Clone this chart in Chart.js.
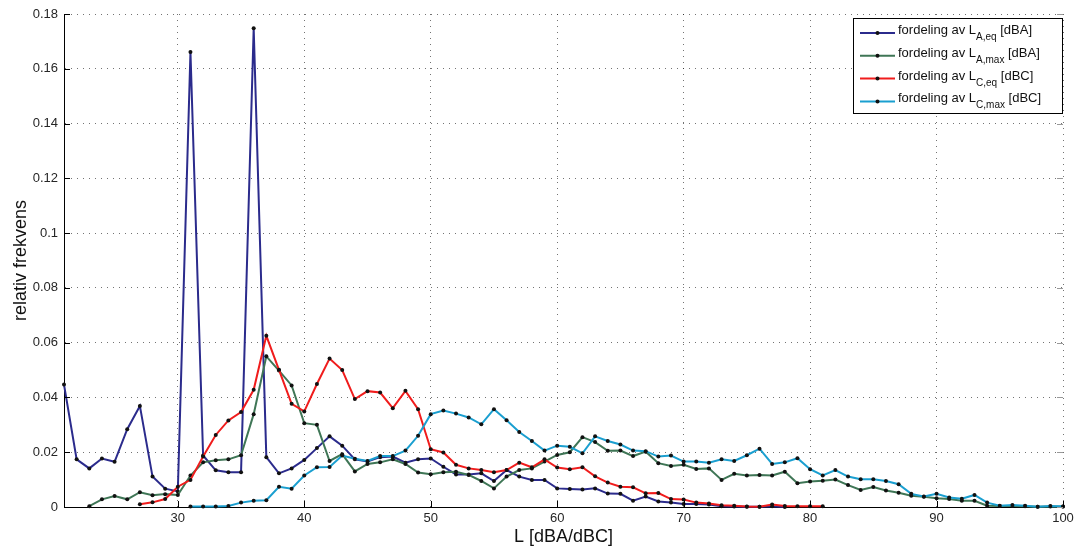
<!DOCTYPE html>
<html>
<head>
<meta charset="utf-8">
<script src="https://cdn.jsdelivr.net/npm/chart.js@4.4.1/dist/chart.umd.min.js"></script>
<style>
  html, body { margin: 0; padding: 0; background: #fff; }
  #wrap { width: 1078px; height: 550px; position: relative; }
</style>
</head>
<body>
<div id="wrap"><canvas id="freqChart"></canvas></div>
<script>
// x start of each series (L in dBA/dBC), then values per 1 dB step
const laeqStart = 21;
const laeq = [0.0447, 0.0174, 0.0141, 0.0177, 0.0165, 0.0284, 0.0369, 0.0111, 0.0067, 0.0057,
  0.1661, 0.0188, 0.0134, 0.0127, 0.0127, 0.1748, 0.0182, 0.0123, 0.0141, 0.0172,
  0.0215, 0.0258, 0.0224, 0.0174, 0.0166, 0.0182, 0.0184, 0.0162, 0.0174, 0.0177,
  0.0147, 0.0119, 0.0119, 0.0123, 0.0095, 0.0135, 0.0111, 0.0099, 0.0099, 0.0068,
  0.0066, 0.0064, 0.0068, 0.0049, 0.0048, 0.0023, 0.0038, 0.0020, 0.0016, 0.0011,
  0.0011, 0.0009, 0.0003, 0.0002, 0.0001, 0.0001, 0.0003, 0.0000];

const lamaxStart = 23;
const lamax = [0.0003, 0.0028, 0.0040, 0.0028, 0.0054, 0.0043, 0.0047, 0.0044, 0.0115, 0.0163,
  0.0171, 0.0174, 0.0189, 0.0339, 0.0550, 0.0498, 0.0444, 0.0306, 0.0300, 0.0168,
  0.0193, 0.0130, 0.0157, 0.0163, 0.0174, 0.0157, 0.0126, 0.0120, 0.0127, 0.0129,
  0.0117, 0.0095, 0.0068, 0.0111, 0.0135, 0.0141, 0.0166, 0.0190, 0.0200, 0.0255,
  0.0237, 0.0205, 0.0206, 0.0186, 0.0202, 0.0160, 0.0150, 0.0154, 0.0139, 0.0141,
  0.0099, 0.0121, 0.0115, 0.0117, 0.0115, 0.0129, 0.0087, 0.0093, 0.0096, 0.0100,
  0.0080, 0.0062, 0.0073, 0.0060, 0.0052, 0.0041, 0.0037, 0.0032, 0.0029, 0.0023,
  0.0023, 0.0005, 0.0004, 0.0004, 0.0003, 0.0001, 0.0002, 0.0002];

const lceqStart = 27;
const lceq = [0.0010, 0.0017, 0.0029, 0.0074, 0.0099, 0.0184, 0.0263, 0.0316, 0.0347, 0.0428,
  0.0625, 0.0501, 0.0377, 0.0349, 0.0449, 0.0542, 0.0500, 0.0394, 0.0423, 0.0418,
  0.0361, 0.0424, 0.0357, 0.0211, 0.0199, 0.0154, 0.0141, 0.0135, 0.0127, 0.0135,
  0.0162, 0.0145, 0.0174, 0.0144, 0.0138, 0.0145, 0.0112, 0.0089, 0.0074, 0.0072,
  0.0050, 0.0051, 0.0029, 0.0027, 0.0016, 0.0013, 0.0006, 0.0005, 0.0002, 0.0001,
  0.0009, 0.0004, 0.0003, 0.0003, 0.0003];

const lcmaxStart = 31;
const lcmax = [0.0002, 0.0002, 0.0002, 0.0004, 0.0016, 0.0023, 0.0025, 0.0074, 0.0067, 0.0115,
  0.0145, 0.0146, 0.0188, 0.0176, 0.0168, 0.0186, 0.0186, 0.0206, 0.0260, 0.0339,
  0.0352, 0.0341, 0.0327, 0.0302, 0.0357, 0.0317, 0.0274, 0.0241, 0.0206, 0.0224,
  0.0220, 0.0196, 0.0258, 0.0241, 0.0228, 0.0206, 0.0204, 0.0184, 0.0188, 0.0166,
  0.0166, 0.0162, 0.0174, 0.0168, 0.0189, 0.0213, 0.0157, 0.0163, 0.0178, 0.0138,
  0.0115, 0.0135, 0.0111, 0.0101, 0.0101, 0.0095, 0.0083, 0.0048, 0.0038, 0.0048,
  0.0035, 0.0030, 0.0044, 0.0016, 0.0005, 0.0007, 0.0005, 0.0001, 0.0004, 0.0002];

const xTicks = [30, 40, 50, 60, 70, 80, 90, 100];
const yTicks = [0, 0.02, 0.04, 0.06, 0.08, 0.1, 0.12, 0.14, 0.16, 0.18];

// legend text pieces: main, subscript, suffix
const legendItems = [
  ['fordeling av L', 'A,eq', ' [dBA]'],
  ['fordeling av L', 'A,max', ' [dBA]'],
  ['fordeling av L', 'C,eq', ' [dBC]'],
  ['fordeling av L', 'C,max', ' [dBC]']
];
const colors = ['#2b2b8c', '#3f7656', '#f01c1c', '#1a9fd0'];

const FONT = "'Liberation Sans', Arial, Helvetica, sans-serif";

function toPoints(start, vals) {
  return vals.map((v, i) => ({ x: start + i, y: v }));
}

function makeSet(label, start, vals, color, order) {
  return {
    label: label,
    data: toPoints(start, vals),
    borderColor: color,
    backgroundColor: color,
    borderWidth: 2,
    pointRadius: 2,
    pointBackgroundColor: '#111',
    pointBorderColor: '#111',
    pointBorderWidth: 0,
    tension: 0,
    clip: false,
    order: order
  };
}

// matlab-like inward ticks + legend with subscripts
const matlabFrame = {
  id: 'matlabFrame',
  afterDraw(chart) {
    const { ctx, chartArea: a, scales: { x, y } } = chart;
    ctx.save();
    ctx.lineWidth = 1;
    ctx.strokeStyle = '#000';
    ctx.beginPath();
    yTicks.forEach(v => {
      const py = Math.round(y.getPixelForValue(v)) + 0.5;
      ctx.moveTo(a.left, py); ctx.lineTo(a.left + 6, py);
    });
    xTicks.forEach(v => {
      const px = Math.round(x.getPixelForValue(v)) + 0.5;
      ctx.moveTo(px, a.bottom); ctx.lineTo(px, a.bottom - 6);
    });
    ctx.stroke();
    ctx.strokeStyle = '#999';
    ctx.beginPath();
    yTicks.forEach(v => {
      const py = Math.round(y.getPixelForValue(v)) + 0.5;
      ctx.moveTo(a.right, py); ctx.lineTo(a.right - 6, py);
    });
    ctx.stroke();

    // legend box
    const bx = a.right - 210, by = a.top + 4, bw = 209, bh = 95;
    ctx.fillStyle = '#fff';
    ctx.fillRect(bx, by, bw, bh);
    ctx.strokeStyle = '#000';
    ctx.strokeRect(bx + 0.5, by + 0.5, bw, bh);
    legendItems.forEach((it, i) => {
      const ly = by + 15 + i * 22.8;
      ctx.strokeStyle = colors[i];
      ctx.lineWidth = 2;
      ctx.beginPath();
      ctx.moveTo(bx + 7, ly); ctx.lineTo(bx + 42, ly);
      ctx.stroke();
      ctx.fillStyle = '#111';
      ctx.beginPath();
      ctx.arc(bx + 24.5, ly, 2, 0, Math.PI * 2);
      ctx.fill();
      ctx.textBaseline = 'alphabetic';
      ctx.textAlign = 'left';
      let tx = bx + 45;
      ctx.font = '13px ' + FONT;
      ctx.fillText(it[0], tx, ly + 1);
      tx += ctx.measureText(it[0]).width;
      ctx.font = '10px ' + FONT;
      ctx.fillText(it[1], tx, ly + 7);
      tx += ctx.measureText(it[1]).width;
      ctx.font = '13px ' + FONT;
      ctx.fillText(it[2], tx, ly + 1);
    });
    ctx.restore();
  }
};

new Chart(document.getElementById('freqChart'), {
  type: 'line',
  data: {
    datasets: [
      makeSet('fordeling av LA,eq [dBA]', laeqStart, laeq, colors[0], 4),
      makeSet('fordeling av LA,max [dBA]', lamaxStart, lamax, colors[1], 3),
      makeSet('fordeling av LC,eq [dBC]', lceqStart, lceq, colors[2], 2),
      makeSet('fordeling av LC,max [dBC]', lcmaxStart, lcmax, colors[3], 1)
    ]
  },
  options: {
    responsive: true,
    maintainAspectRatio: false,
    animation: false,
    layout: { padding: { top: 14, right: 15, left: 0, bottom: 0 } },
    plugins: {
      legend: { display: false },
      tooltip: { enabled: false }
    },
    scales: {
      x: {
        type: 'linear',
        min: 21,
        max: 100,
        afterBuildTicks: s => { s.ticks = xTicks.map(v => ({ value: v })); },
        afterFit: s => { s.height = 43; },
        grid: { color: 'rgba(0,0,0,0.55)', drawTicks: false },
        border: { display: true, color: '#000', width: 1, dash: [1, 5] },
        ticks: { padding: 4, color: '#262626', font: { family: FONT, size: 13 } },
        title: {
          display: true, text: 'L [dBA/dBC]', color: '#111',
          font: { family: FONT, size: 18 }, padding: { top: 0, bottom: 2 }
        }
      },
      y: {
        min: 0,
        max: 0.18,
        afterBuildTicks: s => { s.ticks = yTicks.map(v => ({ value: v })); },
        afterFit: s => { s.width = 64; },
        grid: { color: 'rgba(0,0,0,0.55)', drawTicks: false },
        border: { display: true, color: '#000', width: 1, dash: [1, 5] },
        ticks: {
          padding: 6, color: '#262626', font: { family: FONT, size: 13 },
          callback: v => String(+v.toFixed(2))
        },
        title: {
          display: true, text: 'relativ frekvens', color: '#111',
          font: { family: FONT, size: 18 }, padding: { top: 10, bottom: 0 }
        }
      }
    }
  },
  plugins: [matlabFrame]
});
</script>
</body>
</html>
